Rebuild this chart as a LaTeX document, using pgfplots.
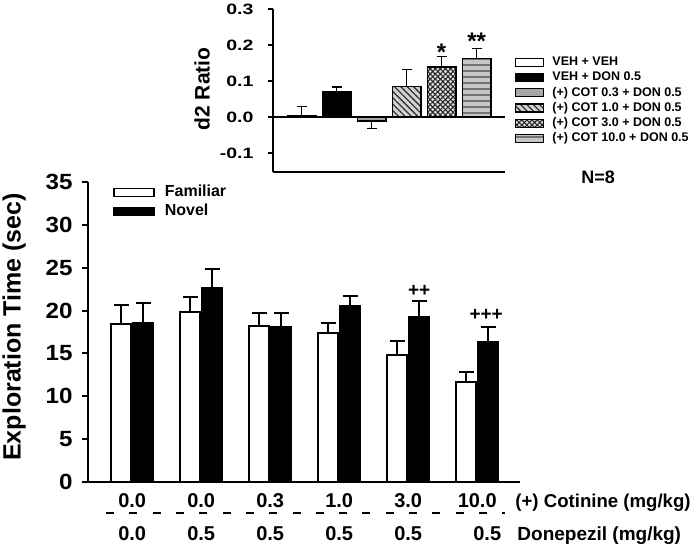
\documentclass[border=0pt]{standalone}
\usepackage{fontspec}
\setmainfont{Liberation Sans}
\newfontfamily\stretchA[FakeStretch=1.3]{Liberation Sans}
\newfontfamily\stretchB[FakeStretch=1.1]{Liberation Sans}
\usepackage{pgfplots}
\pgfplotsset{compat=1.18}
\usetikzlibrary{patterns,patterns.meta}
\newcommand\fs[1]{\fontsize{#1}{#1}\selectfont\bfseries}

\pgfplotstableread{
xf     fam   fe    xn     nov   ne
-0.159 18.4  2.2   0.159  18.6  2.3
0.841  19.8  1.8   1.159  22.7  2.1
1.841  18.2  1.5   2.159  18.1  1.65
2.841  17.35 1.15  3.159  20.5  1.2
3.841  14.8  1.7   4.159  19.3  1.8
4.841  11.7  1.1   5.159  16.4  1.7
}\maindata

\begin{document}
\begin{tikzpicture}
\useasboundingbox (0,0) rectangle (694pt,-545pt);

%================ main axis
\begin{axis}[
  name=main,
  at={(88pt,-482pt)}, anchor=south west,
  scale only axis, width=432pt, height=300pt,
  xmin=-0.64, xmax=5.62, ymin=0, ymax=35,
  axis x line=bottom, axis y line=left,
  axis line style={line width=2pt, -},
  xtick=\empty,
  ytick={0,5,...,35},
  tick align=outside,
  major tick length=6pt,
  tick style={line width=2pt, black},
  yticklabel style={font=\stretchB\fs{22}, xshift=-6pt, /pgf/number format/assume math mode=true},
  ylabel={Exploration Time (sec)},
  ylabel style={font=\fs{25}, at={(axis description cs:-0.171,0.517)}, anchor=center},
  clip=false,
  legend style={at={(axis description cs:0.058,0.99)}, anchor=north west, draw=none, fill=none,
    inner sep=0pt, font=\fs{16}, row sep=4.5pt, column sep=10pt,
    nodes={inner sep=0pt, text height=11.5pt, text depth=3pt}},
  legend cell align=left,
  legend image code/.code={\draw[#1] (0pt,-4pt) rectangle (40pt,4pt);},
]
\addplot[ybar, bar width=20pt, bar shift=0pt, fill=white, draw=black, line width=1.6pt,
  error bars/.cd, y dir=plus, y explicit,
  error bar style={line width=2pt, black},
  error mark options={rotate=90, mark size=7.5pt, line width=2pt, black}]
  table[x=xf, y=fam, y error=fe] {\maindata};
\addlegendentry{Familiar}
\addplot[ybar, bar width=20pt, bar shift=0pt, fill=black, draw=black, line width=1.6pt,
  error bars/.cd, y dir=plus, y explicit,
  error bar style={line width=2pt, black},
  error mark options={rotate=90, mark size=7.5pt, line width=2pt, black}]
  table[x=xn, y=nov, y error=ne] {\maindata};
\addlegendentry{Novel}

\node[font=\fs{19}] at (axis cs:4.159,22.3) {++};
\node[font=\fs{19}] at (axis cs:5.13,19.5) {+++};

% category rows
\node[font=\fs{20}, anchor=base, inner sep=0pt] at (axis cs:0,-3.03) {0.0};
\node[font=\fs{20}, anchor=base, inner sep=0pt] at (axis cs:1,-3.03) {0.0};
\node[font=\fs{20}, anchor=base, inner sep=0pt] at (axis cs:2,-3.03) {0.3};
\node[font=\fs{20}, anchor=base, inner sep=0pt] at (axis cs:3,-3.03) {1.0};
\node[font=\fs{20}, anchor=base, inner sep=0pt] at (axis cs:4,-3.03) {3.0};
\node[font=\fs{20}, anchor=base, inner sep=0pt] at (axis cs:5,-3.03) {10.0};
\node[font=\fs{20}, anchor=base, inner sep=0pt] at (axis cs:0,-6.88) {0.0};
\node[font=\fs{20}, anchor=base, inner sep=0pt] at (axis cs:1,-6.88) {0.5};
\node[font=\fs{20}, anchor=base, inner sep=0pt] at (axis cs:2,-6.88) {0.5};
\node[font=\fs{20}, anchor=base, inner sep=0pt] at (axis cs:3,-6.88) {0.5};
\node[font=\fs{20}, anchor=base, inner sep=0pt] at (axis cs:4,-6.88) {0.5};
\node[font=\fs{20}, anchor=base, inner sep=0pt] at (axis cs:5.145,-6.88) {0.5};
\node[font=\fs{18.6}, anchor=base west, inner sep=0pt] at (axis cs:5.551,-3.03) {(+) Cotinine (mg/kg)};
\node[font=\fs{19}, anchor=base west, inner sep=0pt] at (axis cs:5.58,-6.88) {Donepezil (mg/kg)};
\draw[line width=2pt, dash pattern=on 8pt off 15.3pt] (axis cs:-0.377,-3.62) -- (axis cs:5.406,-3.62);
\end{axis}

%================ inset axis
\begin{axis}[
  name=inset,
  at={(273pt,-172pt)}, anchor=south west,
  scale only axis, width=232pt, height=163pt,
  xmin=-0.82, xmax=5.81, ymin=-0.153, ymax=0.3,
  axis x line=bottom, axis y line=left,
  axis line style={line width=1.3pt, -},
  xtick=\empty,
  ytick={-0.1,0,0.1,0.2,0.3},
  extra y ticks={0}, extra y tick labels={},
  extra y tick style={grid=major, major grid style={black, line width=1.3pt}},
  tick align=outside,
  major tick length=5pt,
  tick style={line width=1.3pt, black},
  yticklabel style={font=\stretchA\fs{15}, xshift=-11pt, /pgf/number format/.cd, fixed, fixed zerofill, precision=1, assume math mode=true},
  ylabel={d2 Ratio},
  ylabel style={font=\fs{21}, at={(axis description cs:-0.306,0.509)}, anchor=center},
  clip=false,
  legend style={at={(axis description cs:1.043,0.712)}, anchor=north west, draw=none, fill=none,
    inner sep=0pt, font=\fs{12.5}, row sep=2.7pt, column sep=8pt,
    nodes={inner sep=0pt, text height=9.5pt, text depth=3pt}},
  legend cell align=left,
  legend image code/.code={\draw[#1] (0pt,-4pt) rectangle (28pt,4pt);},
  every axis plot/.append style={ybar, bar width=28.5pt, bar shift=0pt, line width=1.3pt, draw=black,
    error bars/y explicit,
    error bars/error bar style={line width=1.3pt, black},
    error bars/error mark options={rotate=90, mark size=5pt, line width=1.3pt, black}},
]
\addplot[fill=white, error bars/y dir=plus] coordinates {(0,0.004) +- (0,0.025)};
\addlegendentry{VEH + VEH}
\addplot[fill=black, error bars/y dir=plus] coordinates {(1,0.069) +- (0,0.014)};
\addlegendentry{VEH + DON 0.5}
\addplot[fill=gray!70, error bars/y dir=minus] coordinates {(2,-0.011) +- (0,0.022)};
\addlegendentry{(+) COT 0.3 + DON 0.5}
\addplot[fill=gray!35, postaction={pattern={Lines[angle=-45,distance=4.5pt,line width=1.3pt]}, pattern color=black!80}, error bars/y dir=plus] coordinates {(3,0.085) +- (0,0.046)};
\addlegendentry{(+) COT 1.0 + DON 0.5}
\addplot[fill=gray!25, postaction={pattern={Lines[angle=45,distance=3.6pt,line width=1.1pt]}, pattern color=black!85}, postaction={pattern={Lines[angle=-45,distance=3.6pt,line width=1.1pt]}, pattern color=black!85}, error bars/y dir=plus] coordinates {(4,0.139) +- (0,0.029)};
\addlegendentry{(+) COT 3.0 + DON 0.5}
\addplot[fill=gray!45, postaction={pattern={Lines[angle=0,distance=6pt,line width=1.2pt]}, pattern color=black!55}, error bars/y dir=plus] coordinates {(5,0.162) +- (0,0.029)};
\addlegendentry{(+) COT 10.0 + DON 0.5}

\node[font=\fs{24}] at (axis cs:4,0.181) {*};
\node[font=\fs{24}] at (axis cs:5,0.209) {**};
\node[font=\fs{18}] at (axis cs:8.47,-0.167) {N=8};
\end{axis}
\end{tikzpicture}
\end{document}
